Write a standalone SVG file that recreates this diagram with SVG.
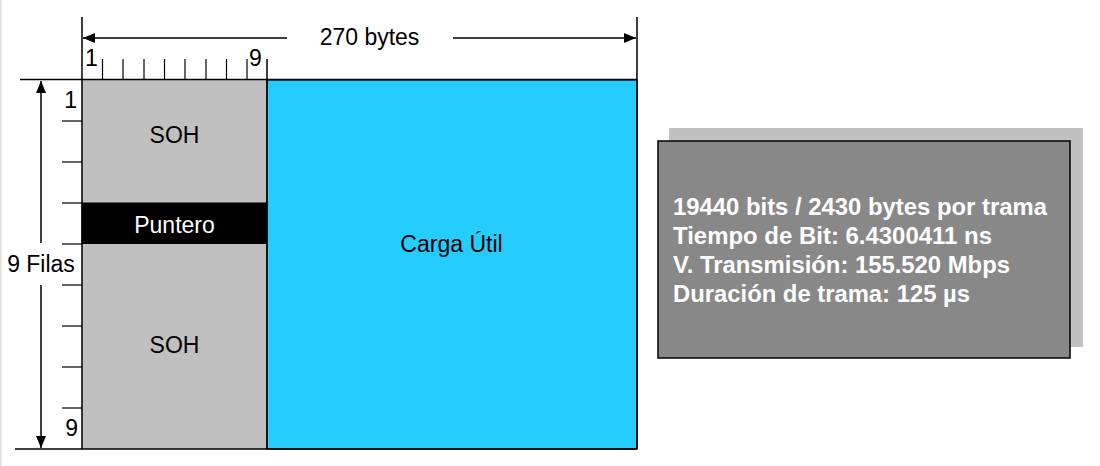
<svg xmlns="http://www.w3.org/2000/svg" width="1100" height="466" viewBox="0 0 1100 466">
<defs>
<style>
.t{font-family:"Liberation Sans",Arial,sans-serif;font-size:23px;fill:#000}
.b{font-family:"Liberation Sans",Arial,sans-serif;font-size:23px;font-weight:bold;fill:#fff}
.ln{stroke:#000;stroke-width:1.5;fill:none}
.tk{stroke:#000;stroke-width:1.2;fill:none}
</style>
<marker id="ah" viewBox="0 0 12 10" refX="12" refY="5" markerWidth="12" markerHeight="10" markerUnits="userSpaceOnUse" orient="auto">
<path d="M0,0 L12,5 L0,10 Z" fill="#000"/>
</marker>
</defs>
<rect x="0" y="0" width="1100" height="466" fill="#fff"/>
<rect x="0" y="0" width="1.5" height="466" fill="#e0e0e0"/>

<g id="soh-top">
<rect x="82" y="80" width="185" height="123" fill="#c0c0c0"/>
<text class="t" x="174.5" y="143" text-anchor="middle">SOH</text>
</g>
<g id="puntero">
<rect x="82" y="203" width="185" height="41" fill="#000" stroke="#000" stroke-width="1"/>
<text class="t" x="174.5" y="233" text-anchor="middle" fill="#fff" style="fill:#fff">Puntero</text>
</g>
<g id="soh-bottom">
<rect x="82" y="244" width="185" height="205" fill="#c0c0c0"/>
<text class="t" x="174.5" y="353" text-anchor="middle">SOH</text>
</g>
<g id="carga">
<rect x="267" y="80" width="370" height="369" fill="#24ccff" stroke="#000" stroke-width="1.2"/>
<text class="t" x="451.5" y="252" text-anchor="middle">Carga Útil</text>
</g>

<g id="info">
<rect x="669" y="128" width="414" height="219" fill="#c0c0c0"/>
<rect x="658" y="141" width="412" height="217" fill="#888888" stroke="#000" stroke-width="1.5"/>
<text class="b" x="673" y="215" textLength="374" lengthAdjust="spacingAndGlyphs">19440 bits / 2430 bytes por trama</text>
<text class="b" x="673" y="244" textLength="319" lengthAdjust="spacingAndGlyphs">Tiempo de Bit: 6.4300411 ns</text>
<text class="b" x="673" y="273" textLength="337" lengthAdjust="spacingAndGlyphs">V. Transmisión: 155.520 Mbps</text>
<text class="b" x="673" y="302" textLength="297" lengthAdjust="spacingAndGlyphs">Duración de trama: 125 µs</text>
</g>

<g id="connectors">
<line class="ln" x1="82" y1="17" x2="82" y2="449"/>
<line class="ln" x1="637" y1="17" x2="637" y2="449"/>
<line class="ln" x1="20" y1="79.5" x2="637" y2="79.5"/>
<line class="ln" x1="15" y1="449" x2="637" y2="449"/>
<line class="ln" x1="267" y1="59" x2="267" y2="449"/>
<line class="ln" x1="287" y1="38" x2="83" y2="38" marker-end="url(#ah)"/>
<line class="ln" x1="453" y1="38" x2="636" y2="38" marker-end="url(#ah)"/>
<line class="ln" x1="41" y1="243" x2="41" y2="81" marker-end="url(#ah)"/>
<line class="ln" x1="41" y1="285" x2="41" y2="448" marker-end="url(#ah)"/>
<g class="tk">
<line x1="102.5" y1="59" x2="102.5" y2="80"/>
<line x1="123" y1="59" x2="123" y2="80"/>
<line x1="144" y1="59" x2="144" y2="80"/>
<line x1="164.5" y1="59" x2="164.5" y2="80"/>
<line x1="185" y1="59" x2="185" y2="80"/>
<line x1="206" y1="59" x2="206" y2="80"/>
<line x1="226.5" y1="59" x2="226.5" y2="80"/>
<line x1="247" y1="59" x2="247" y2="80"/>
<line x1="62" y1="121" x2="82" y2="121"/>
<line x1="62" y1="162" x2="82" y2="162"/>
<line x1="62" y1="203" x2="82" y2="203"/>
<line x1="62" y1="244" x2="82" y2="244"/>
<line x1="62" y1="285" x2="82" y2="285"/>
<line x1="62" y1="326" x2="82" y2="326"/>
<line x1="62" y1="367" x2="82" y2="367"/>
<line x1="62" y1="408" x2="82" y2="408"/>
</g>
</g>

<g id="labels">
<text class="t" x="369.5" y="45" text-anchor="middle">270 bytes</text>
<text class="t" x="85" y="66">1</text>
<text class="t" x="249" y="66">9</text>
<text class="t" x="77" y="108" text-anchor="end">1</text>
<text class="t" x="78" y="436" text-anchor="end">9</text>
<text class="t" x="41" y="272" text-anchor="middle">9 Filas</text>
</g>
</svg>
